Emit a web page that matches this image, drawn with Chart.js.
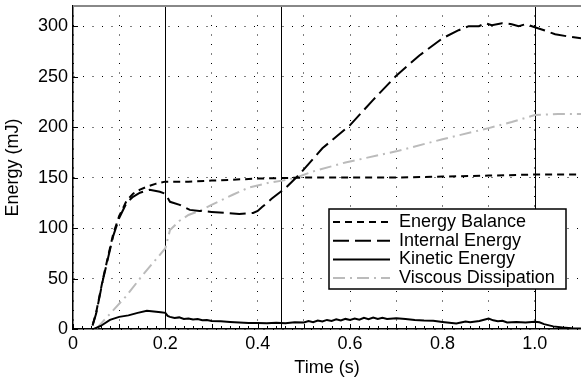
<!DOCTYPE html>
<html>
<head>
<meta charset="utf-8">
<script src="https://cdn.jsdelivr.net/npm/chart.js@4"></script>
<style>
  body { margin: 0; background: #fff; }
  #wrap { width: 581px; height: 384px; }
</style>
</head>
<body>
<div id="wrap"><canvas id="chart" width="581" height="384"></canvas></div>
<script>
// values: time in s, energy in mJ

const balanceT = [0, 0.04, 0.05, 0.065, 0.087, 0.1, 0.116, 0.13, 0.145, 0.16, 0.18, 0.2, 0.25, 0.3, 0.4, 0.5, 0.6, 0.7, 0.8, 0.9, 1.0, 1.1];
const balanceE = [0, 0, 16, 50, 94, 112, 127, 134, 138, 141, 144, 146, 146, 147, 149, 150, 150, 150, 151, 152, 153, 153];

const internalT = [0, 0.04, 0.05, 0.065, 0.087, 0.1, 0.116, 0.13, 0.145, 0.166, 0.188, 0.2, 0.21, 0.231, 0.253, 0.274, 0.3, 0.33, 0.36, 0.39, 0.4, 0.41, 0.43, 0.461, 0.49, 0.54, 0.6, 0.65, 0.7, 0.75, 0.8, 0.835, 0.857, 0.879, 0.893, 0.907, 0.929, 0.95, 0.965, 0.98, 1.0, 1.02, 1.044, 1.07, 1.1];
const internalE = [0, 0, 15, 49, 92, 110, 125, 131, 135, 138, 136, 134, 126, 123, 118, 117, 116, 115, 114, 115, 117, 121, 129, 140, 153, 179, 202, 227, 251, 271, 288, 296, 300, 300, 303, 301, 303, 302, 300, 302, 299, 296, 292, 290, 288];

const kineticT = [0, 0.045, 0.06, 0.08, 0.1, 0.12, 0.14, 0.16, 0.18, 0.19, 0.2, 0.205, 0.21, 0.22, 0.23, 0.24, 0.25, 0.26, 0.27, 0.28, 0.29, 0.3, 0.32, 0.34, 0.36, 0.38, 0.4, 0.42, 0.44, 0.46, 0.48, 0.5, 0.51, 0.52, 0.53, 0.54, 0.55, 0.56, 0.57, 0.58, 0.59, 0.6, 0.61, 0.62, 0.63, 0.64, 0.65, 0.66, 0.67, 0.68, 0.7, 0.72, 0.74, 0.76, 0.78, 0.8, 0.82, 0.83, 0.84, 0.85, 0.86, 0.88, 0.9, 0.91, 0.92, 0.93, 0.94, 0.96, 0.98, 1.0, 1.01, 1.02, 1.04, 1.06, 1.08, 1.1];
const kineticE = [0, 0, 3, 9, 12, 13.5, 16, 18, 17, 16.5, 16, 13, 12, 11, 11.5, 10, 10.5, 9.5, 9.8, 8.6, 8.9, 8, 7.6, 7, 6.5, 6, 6, 5.6, 6.2, 5.8, 6.6, 6.5, 7.8, 6.8, 8.4, 7.4, 9, 8, 9.6, 8.4, 10, 9, 10.4, 9.2, 11, 9.8, 11.4, 10, 11, 10, 10.6, 10, 9, 8.4, 8.2, 7, 6, 5.4, 6.4, 7.4, 6.6, 8, 10.4, 8.6, 7.6, 8.2, 6.4, 7, 6.4, 7.2, 6.6, 4.8, 2.6, 1.4, 0.7, 0.4];

const viscousT = [0, 0.05, 0.08, 0.116, 0.15, 0.2, 0.21, 0.23, 0.25, 0.274, 0.3, 0.346, 0.38, 0.425, 0.453, 0.483, 0.519, 0.59, 0.7, 0.8, 0.9, 0.95, 1.0, 1.05, 1.1];
const viscousE = [0, 0, 15, 33, 53, 80, 98, 107, 113, 117, 123, 133, 140, 145, 147, 150, 156, 165, 176, 188, 199, 205, 212, 213, 213];

// phase boundaries drawn as solid vertical lines
const phaseTimes = [0.2, 0.45, 1.0];

// axis ticks
const xGrid = [0, 0.1, 0.2, 0.3, 0.4, 0.5, 0.6, 0.7, 0.8, 0.9, 1.0, 1.1];
const xLabels = ["0", "", "0.2", "", "0.4", "", "0.6", "", "0.8", "", "1.0", ""];
const yGrid = [0, 50, 100, 150, 200, 250, 300];
const yLabels = ["0", "50", "100", "150", "200", "250", "300"];

const pts = (t, e) => t.map((v, i) => ({ x: v, y: e[i] }));

Chart.defaults.font.family = '"Liberation Sans", Arial, Helvetica, sans-serif';
Chart.defaults.font.size = 18;
Chart.defaults.color = "#000";

// frame, phase lines, inward ticks and the boxed legend

const decor = {
  id: "decor",
  beforeDatasetsDraw(chart) {
    const { ctx, chartArea: a, scales: { x } } = chart;
    ctx.save();
    ctx.strokeStyle = "#000";
    ctx.lineWidth = 1;
    phaseTimes.forEach((t) => {
      const px = Math.round(x.getPixelForValue(t)) + 0.5;
      ctx.beginPath();
      ctx.moveTo(px, a.top);
      ctx.lineTo(px, a.bottom);
      ctx.stroke();
    });
    ctx.restore();
  },
  afterDatasetsDraw(chart) {
    const { ctx, chartArea: a, scales: { x, y } } = chart;
    ctx.save();

    ctx.strokeStyle = "#888";
    ctx.lineWidth = 2;
    ctx.beginPath();
    ctx.moveTo(a.left, a.top);
    ctx.lineTo(a.right, a.top);
    ctx.stroke();

    ctx.strokeStyle = "#000";
    ctx.lineWidth = 1;
    for (let v = 0; v <= 1.1001; v += 0.02) {
      const px = Math.round(x.getPixelForValue(v)) + 0.5;
      const major = Math.abs(v * 10 - Math.round(v * 10)) < 0.01;
      ctx.beginPath();
      ctx.moveTo(px, a.bottom);
      ctx.lineTo(px, a.bottom - (major ? 5 : 3));
      ctx.stroke();
    }
    yGrid.forEach((v) => {
      const py = Math.round(y.getPixelForValue(v)) + 0.5;
      ctx.beginPath();
      ctx.moveTo(a.left, py);
      ctx.lineTo(a.left + 5, py);
      ctx.stroke();
    });

    // legend
    const bx = a.right - 252, by = a.bottom - 120, bw = 237, bh = 80;
    ctx.fillStyle = "#fff";
    ctx.fillRect(bx, by, bw, bh);
    ctx.strokeStyle = "#000";
    ctx.lineWidth = 1.5;
    ctx.strokeRect(bx, by, bw, bh);
    ctx.font = '18px "Liberation Sans", Arial, sans-serif';
    ctx.textBaseline = "middle";
    ctx.fillStyle = "#000";
    chart.data.datasets.forEach((ds, i) => {
      const ry = by + 13 + i * 18.7;
      ctx.strokeStyle = ds.borderColor;
      ctx.lineWidth = ds.borderWidth;
      ctx.setLineDash(ds.borderDash || []);
      ctx.beginPath();
      ctx.moveTo(bx + 4, ry);
      ctx.lineTo(bx + 61, ry);
      ctx.stroke();
      ctx.setLineDash([]);
      ctx.fillText(ds.label, bx + 70, ry);
    });
    ctx.restore();
  },
};

new Chart(document.querySelector("#chart"), {
  type: "line",
  data: {
    datasets: [
      {
        label: "Energy Balance",
        data: pts(balanceT, balanceE),
        borderColor: "#000",
        borderWidth: 2,
        borderDash: [7, 5],
      },
      {
        label: "Internal Energy",
        data: pts(internalT, internalE),
        borderColor: "#000",
        borderWidth: 2,
        borderDash: [16, 6],
      },
      {
        label: "Kinetic Energy",
        data: pts(kineticT, kineticE),
        borderColor: "#000",
        borderWidth: 2,
      },
      {
        label: "Viscous Dissipation",
        data: pts(viscousT, viscousE),
        borderColor: "#bbb",
        borderWidth: 2,
        borderDash: [12, 5, 2, 5],
      },
    ],
  },
  options: {
    responsive: false,
    animation: false,
    elements: { point: { radius: 0 }, line: { tension: 0 } },
    layout: { padding: { top: 6, right: 0, left: 0, bottom: 0 } },
    plugins: { legend: { display: false }, tooltip: { enabled: false } },
    scales: {
      x: {
        type: "linear",
        min: 0,
        max: 1.1,
        afterBuildTicks: (s) => { s.ticks = xGrid.map((v) => ({ value: v })); },
        afterFit: (s) => { s.height = 55; s.paddingLeft = 0; s.paddingRight = 0; },
        grid: { color: "#000", lineWidth: 1, drawTicks: false },
        border: { color: "#000", width: 1.5, dash: [1, 8.5] },
        ticks: { padding: 4, maxRotation: 0, autoSkip: false, callback: (v, i) => xLabels[i] },
        title: { display: true, text: "Time (s)", padding: { top: 0, bottom: 5 } },
      },
      y: {
        min: 0,
        max: 320,
        afterBuildTicks: (s) => { s.ticks = yGrid.map((v) => ({ value: v })); },
        afterFit: (s) => { s.width = 73; s.paddingTop = 0; s.paddingBottom = 0; },
        grid: { color: "#000", lineWidth: 1, drawTicks: false },
        border: { color: "#000", width: 1.5, dash: [1, 8.5] },
        ticks: { padding: 5, autoSkip: false, callback: (v, i) => yLabels[i] },
        title: { display: true, text: "Energy (mJ)", padding: { top: 2, bottom: 0 } },
      },
    },
  },
  plugins: [decor],
});
</script>
</body>
</html>
